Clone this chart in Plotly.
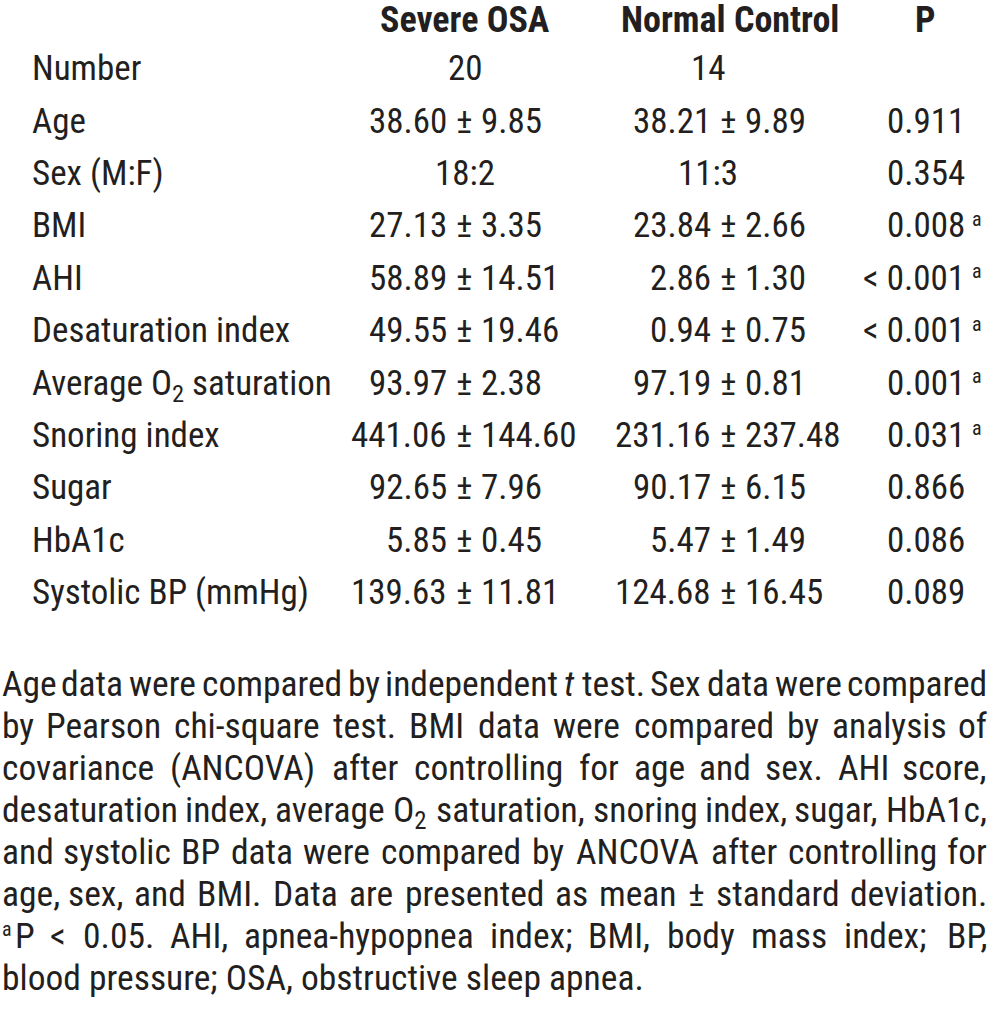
import re
import plotly.graph_objects as go

# ---------------- data ----------------
col_headers = ["Severe OSA", "Normal Control", "P"]
row_labels = ["Number", "Age", "Sex (M:F)", "BMI", "AHI", "Desaturation index",
              "Average O<sub>2</sub> saturation", "Snoring index", "Sugar", "HbA1c",
              "Systolic BP (mmHg)"]
severe_osa = ["20", "38.60 ± 9.85", "18:2", "27.13 ± 3.35", "58.89 ± 14.51", "49.55 ± 19.46",
              "93.97 ± 2.38", "441.06 ± 144.60", "92.65 ± 7.96", "5.85 ± 0.45", "139.63 ± 11.81"]
normal_control = ["14", "38.21 ± 9.89", "11:3", "23.84 ± 2.66", "2.86 ± 1.30", "0.94 ± 0.75",
                  "97.19 ± 0.81", "231.16 ± 237.48", "90.17 ± 6.15", "5.47 ± 1.49", "124.68 ± 16.45"]
p_values = ["", "0.911", "0.354", "0.008", "< 0.001", "< 0.001", "0.001", "0.031", "0.866", "0.086", "0.089"]
p_marks = ["", "", "", "a", "a", "a", "a", "a", "", "", ""]
footnote_lines = [
    "Age data were compared by independent <i>t</i> test. Sex data were compared",
    "by Pearson chi-square test. BMI data were compared by analysis of",
    "covariance (ANCOVA) after controlling for age and sex. AHI score,",
    "desaturation index, average O<sub>2</sub> saturation, snoring index, sugar, HbA1c,",
    "and systolic BP data were compared by ANCOVA after controlling for",
    "age, sex, and BMI. Data are presented as mean ± standard deviation.",
    "<sup>a</sup>P < 0.05. AHI, apnea-hypopnea index; BMI, body mass index; BP,",
    "blood pressure; OSA, obstructive sleep apnea.",
]
footnote_justified = [True, True, True, True, True, True, True, False]

# ---------------- layout / style ----------------
W, H = 990, 1015
FONT = "Roboto Condensed, Liberation Sans Narrow, Arial Narrow, sans-serif"
COLOR = "#231f20"
TABLE_SIZE = 35
HEAD_SIZE = 36
NOTE_SIZE = 35.5
MARK_SIZE = 20
HEADER_Y = 18
ROW_Y0 = 66.5
ROW_DY = 52.4
LABEL_X = 31
HEADER_X = [465, 730, 925]
PM_X = [464, 728]          # x of the ± sign in the two value columns
PLAIN_X = [465, 708]       # centre of plain values (Number, Sex)
PM_GAP = 16
P_RIGHT = 966
MARK_X = 971
NOTE_L, NOTE_R = 1, 988
NOTE_Y0 = 682
NOTE_DY = 42
TOP_K = 0.55               # cap-centre = box top + TOP_K * size
WIDTH_K = 0.897            # condensed face relative to regular Roboto metrics

# approximate Roboto advance widths (1/2048 em), narrow letters nudged for the condensed cut
RW = {' ': 507, '(': 699, ')': 712, ',': 393, '-': 565, '.': 539, ':': 496, ';': 433,
      '<': 1040, '±': 1094}
for ch in '0123456789':
    RW[ch] = 1150
RW.update(dict(zip("ABCDEFGHIJKLMNOPQRSTUVWXYZ",
                   [1336, 1275, 1333, 1343, 1164, 1132, 1395, 1460, 557, 1130, 1284, 1102, 1788,
                    1460, 1408, 1292, 1408, 1261, 1217, 1221, 1328, 1303, 1817, 1284, 1230, 1226])))
RW.update(dict(zip("abcdefghijklmnopqrstuvwxyz",
                   [1087, 1122, 1046, 1126, 1058, 720, 1122, 1102, 520, 500, 1013, 520, 1751,
                    1104, 1139, 1122, 1124, 720, 1031, 710, 1102, 969, 1502, 991, 946, 991])))


def text_width(s, size):
    total = 0.0
    scale = 1.0
    extra = 0.0
    for tok in re.split(r'(<[^>]+>)', s):
        if tok.startswith('<') and tok.endswith('>') and len(tok) > 2 and tok[1] in '/sib':
            if tok in ('<sub>', '<sup>'):
                scale = 0.7
            elif tok in ('</sub>', '</sup>'):
                scale = 1.0
            elif tok == '<i>':
                extra += 2.0
            continue
        for ch in tok:
            total += RW.get(ch, 1100) * scale
    return total / 2048.0 * WIDTH_K * size + extra


def ann(text, x, yc, size, anchor, bold=False):
    t = f"<b>{text}</b>" if bold else text
    ytop = yc - TOP_K * size
    return dict(text=t, x=x / W, y=1 - ytop / H,
                xref="paper", yref="paper",
                xanchor=anchor, yanchor="top", showarrow=False, borderpad=0,
                font=dict(family=FONT, size=size, color=COLOR))


annotations = []

# header
for txt, x in zip(col_headers, HEADER_X):
    annotations.append(ann(txt, x, HEADER_Y, HEAD_SIZE, "center", bold=True))

# rows
for i, lab in enumerate(row_labels):
    yc = ROW_Y0 + i * ROW_DY
    annotations.append(ann(lab, LABEL_X, yc, TABLE_SIZE, "left"))
    for c, vals in enumerate([severe_osa, normal_control]):
        v = vals[i]
        if "±" in v:
            mean, sd = [p.strip() for p in v.split("±")]
            annotations.append(ann(mean, PM_X[c] - PM_GAP, yc, TABLE_SIZE, "right"))
            annotations.append(ann("±", PM_X[c], yc, TABLE_SIZE, "center"))
            annotations.append(ann(sd, PM_X[c] + PM_GAP, yc, TABLE_SIZE, "left"))
        else:
            annotations.append(ann(v, PLAIN_X[c], yc, TABLE_SIZE, "center"))
    if p_values[i]:
        annotations.append(ann(p_values[i], P_RIGHT, yc, TABLE_SIZE, "right"))
    if p_marks[i]:
        annotations.append(ann(p_marks[i], MARK_X, yc - 7, MARK_SIZE, "left"))

# footnote, justified word by word (inner words centre-anchored so errors stay local)
for li, line in enumerate(footnote_lines):
    yc = NOTE_Y0 + li * NOTE_DY
    left = NOTE_L
    m = re.match(r'^<sup>(.*?)</sup>', line)
    if m:
        annotations.append(ann(m.group(1), left, yc - 7, MARK_SIZE, "left"))
        left += text_width(m.group(1), MARK_SIZE) + 3
        line = line[m.end():]
    if not footnote_justified[li]:
        annotations.append(ann(line, left, yc, NOTE_SIZE, "left"))
        continue
    words = line.split(" ")
    widths = [text_width(w, NOTE_SIZE) for w in words]
    gap = (NOTE_R - left - sum(widths)) / (len(words) - 1)
    x = left
    n = len(words)
    for k, (w, wd) in enumerate(zip(words, widths)):
        if k == 0:
            annotations.append(ann(w, left, yc, NOTE_SIZE, "left"))
        elif k == n - 1:
            annotations.append(ann(w, NOTE_R, yc, NOTE_SIZE, "right"))
        else:
            annotations.append(ann(w, x + wd / 2, yc, NOTE_SIZE, "center"))
        x += wd + gap

fig = go.Figure()
fig.update_layout(
    width=W, height=H, margin=dict(l=0, r=0, t=0, b=0),
    paper_bgcolor="white", plot_bgcolor="white",
    xaxis=dict(visible=False, fixedrange=True),
    yaxis=dict(visible=False, fixedrange=True),
    showlegend=False,
    annotations=annotations,
)
fig.write_html("out.html",
               config={"displayModeBar": False, "staticPlot": True},
               post_script="document.body.style.margin='0';document.body.style.overflow='hidden';")
